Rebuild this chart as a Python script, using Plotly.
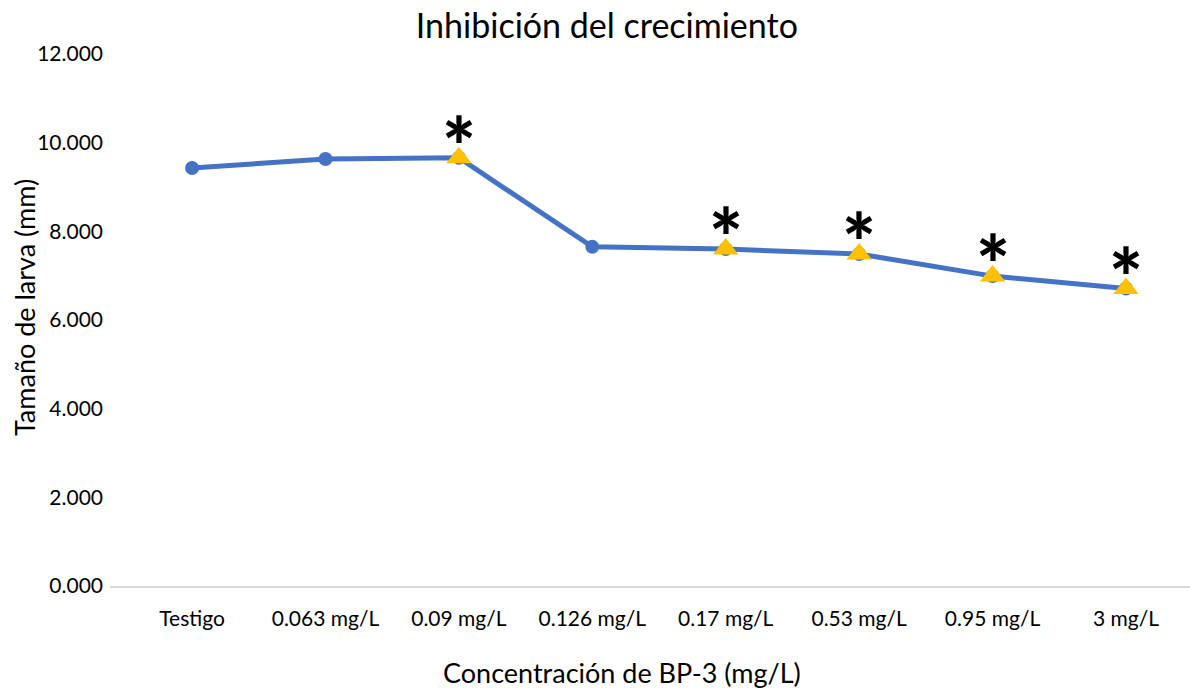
import plotly.graph_objects as go

# Larval size by BP-3 concentration
categorias = ["Testigo", "0.063 mg/L", "0.09 mg/L", "0.126 mg/L",
              "0.17 mg/L", "0.53 mg/L", "0.95 mg/L", "3 mg/L"]
tamano_mm = [9.43, 9.63, 9.66, 7.65, 7.60, 7.49, 6.99, 6.71]
significativo = [False, False, True, False, True, True, True, True]

AZUL = "#4472C4"
AMARILLO = "#FFC000"
FUENTE = "Lato, Carlito, sans-serif"

x_idx = list(range(len(categorias)))
sig_x = [i for i, s in zip(x_idx, significativo) if s]
sig_y = [v for v, s in zip(tamano_mm, significativo) if s]

fig = go.Figure()

fig.add_trace(go.Scatter(
    x=x_idx, y=tamano_mm, mode="lines+markers",
    line=dict(color=AZUL, width=5),
    marker=dict(color=AZUL, size=14, symbol="circle"),
    hoverinfo="skip", showlegend=False,
))

fig.add_trace(go.Scatter(
    x=sig_x, y=sig_y, mode="markers",
    marker=dict(color=AMARILLO, size=22, symbol="triangle-up",
                line=dict(width=0)),
    hoverinfo="skip", showlegend=False,
))

# significance asterisks above the flagged points
for xi, yi in zip(sig_x, sig_y):
    fig.add_annotation(
        x=xi, y=yi, text="*", showarrow=False,
        yshift=-37,
        font=dict(family=FUENTE, size=80, color="#000000", weight=900),
        xanchor="center", yanchor="bottom",
    )

# axis titles, placed relative to the whole chart area
fig.add_annotation(
    text="Concentración de BP-3 (mg/L)", xref="paper", yref="paper",
    x=(622 - 110) / 1080, y=-(672 - 586) / 532,
    xanchor="center", yanchor="middle", showarrow=False,
    font=dict(family=FUENTE, size=27, color="#000000"),
)
fig.add_annotation(
    text="Tamaño de larva (mm)", xref="paper", yref="paper",
    x=-(110 - 24) / 1080, y=(586 - 308) / 532, textangle=-90,
    xanchor="center", yanchor="middle", showarrow=False,
    font=dict(family=FUENTE, size=27, color="#000000"),
)

fig.update_layout(
    width=1190, height=688,
    margin=dict(l=110, r=0, t=54, b=102),
    paper_bgcolor="white", plot_bgcolor="white",
    font=dict(family=FUENTE, color="#000000"),
    title=dict(text="Inhibición del crecimiento", x=0.51, xanchor="center",
               y=0.962, yanchor="middle",
               font=dict(family=FUENTE, size=34, color="#000000")),
)

fig.update_xaxes(
    range=[-0.615, 7.48],
    tickmode="array", tickvals=x_idx, ticktext=categorias,
    tickfont=dict(size=21, color="#000000"),
    showgrid=False, zeroline=False,
    showline=True, linecolor="#D9D9D9", linewidth=1.5,
    ticks="", ticklabelstandoff=13,
)

fig.update_yaxes(
    range=[0, 12], tickvals=[0, 2, 4, 6, 8, 10, 12], tickformat=".3f",
    tickfont=dict(size=21, color="#000000"),
    showgrid=False, zeroline=False, showline=False,
    ticks="", ticklabelstandoff=6,
)

fig.write_html("out.html")
